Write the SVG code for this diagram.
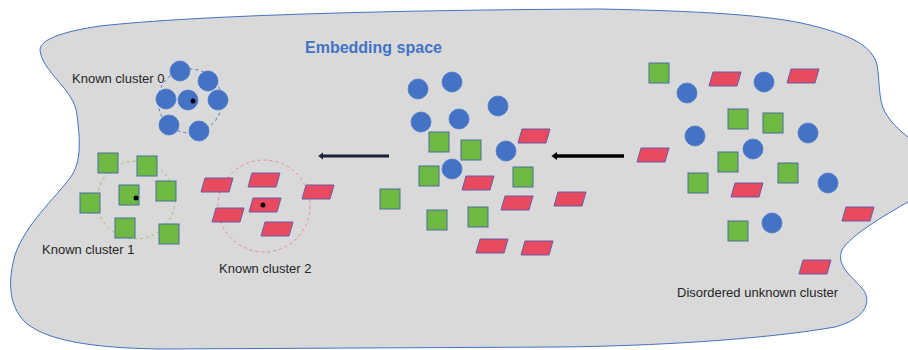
<svg xmlns="http://www.w3.org/2000/svg" width="908" height="350" viewBox="0 0 908 350">
<style>
.bg{fill:#d9d9d9;stroke:#4472c4;stroke-width:1}
.c{fill:#4472c4;stroke:#4a78c8;stroke-width:0.8}
.s{fill:#6fb943;stroke:#46709c;stroke-width:1}
.p{fill:#e84a5f;stroke:#6a5aa6;stroke-width:1}
.dot{fill:#000}
.lbl{font-family:"Liberation Sans",Arial,sans-serif;font-size:13px;fill:#262626}
.title{font-family:"Liberation Sans",Arial,sans-serif;font-size:16px;font-weight:bold;fill:#4472c4}
.ring{fill:none;stroke-width:1;stroke-dasharray:3,3}
</style>
<defs>
<rect id="sq" class="s" width="20" height="20"/>
<polygon id="pg" class="p" points="4,0 32,0 28,14 0,14"/>
<marker id="ahN" markerWidth="3" markerHeight="3" refX="0" refY="1.15" orient="auto" markerUnits="strokeWidth" overflow="visible">
<path d="M0,0 L1.6,1.15 L0,2.3 Z" fill="#1a2238"/>
</marker>
<marker id="ahB" markerWidth="3" markerHeight="3" refX="0" refY="1.15" orient="auto" markerUnits="strokeWidth" overflow="visible">
<path d="M0,0 L1.6,1.15 L0,2.3 Z" fill="#000"/>
</marker>
</defs>
<path class="bg" d="M 40,50 C 40,40 60,32 100,26 C 200,15 400,10 600,9 C 700,11 770,15 810,25 C 850,35 872,45 877,65 C 880,80 878,100 885,112 C 892,125 905,135 915,142 L 915,198 C 890,212 850,235 842,250 C 836,265 850,275 862,288 C 872,300 868,318 835,327 C 760,340 650,346 560,347 L 160,349 C 90,348 45,340 25,322 C 8,305 8,280 15,255 C 25,225 55,198 70,178 C 82,162 80,140 77,115 C 75,90 42,72 40,50 Z"/>
<text class="title" x="305" y="53">Embedding space</text>
<g id="known-cluster-0">
<circle class="ring" cx="190" cy="101" r="32" stroke="#4472c4"/>
<circle class="c" cx="180" cy="71" r="10"/>
<circle class="c" cx="208" cy="81" r="10"/>
<circle class="c" cx="166" cy="99" r="10"/>
<circle class="c" cx="188" cy="100" r="10"/>
<circle class="c" cx="218" cy="100" r="10"/>
<circle class="c" cx="169" cy="125" r="10"/>
<circle class="c" cx="199" cy="131" r="10"/>
<circle class="dot" cx="193" cy="101" r="2.5"/>
<text class="lbl" x="72" y="83">Known cluster 0</text>
</g>
<g id="known-cluster-1">
<circle class="ring" cx="136" cy="200" r="39" stroke="#9ac36a"/>
<use href="#sq" x="98" y="153"/>
<use href="#sq" x="137" y="156"/>
<use href="#sq" x="119" y="185"/>
<use href="#sq" x="156" y="181"/>
<use href="#sq" x="80" y="193"/>
<use href="#sq" x="115" y="218"/>
<use href="#sq" x="159" y="224"/>
<circle class="dot" cx="136" cy="198" r="2.5"/>
<text class="lbl" x="42" y="254">Known cluster 1</text>
</g>
<g id="known-cluster-2">
<circle class="ring" cx="264" cy="206" r="46" stroke="#e88a94"/>
<use href="#pg" x="201" y="178"/>
<use href="#pg" x="248" y="173"/>
<use href="#pg" x="302" y="185"/>
<use href="#pg" x="249" y="198"/>
<use href="#pg" x="212" y="208"/>
<use href="#pg" x="261" y="222"/>
<circle class="dot" cx="263" cy="205" r="2.5"/>
<text class="lbl" x="219" y="273">Known cluster 2</text>
</g>
<g id="mixed-cluster">
<circle class="c" cx="418" cy="89" r="10"/>
<circle class="c" cx="452" cy="82" r="10"/>
<circle class="c" cx="498" cy="106" r="10"/>
<circle class="c" cx="421" cy="122" r="10"/>
<circle class="c" cx="459" cy="119" r="10"/>
<circle class="c" cx="506" cy="151" r="10"/>
<circle class="c" cx="452" cy="169" r="10"/>
<use href="#sq" x="429" y="132"/>
<use href="#sq" x="461" y="140"/>
<use href="#sq" x="419" y="166"/>
<use href="#sq" x="513" y="167"/>
<use href="#sq" x="380" y="189"/>
<use href="#sq" x="427" y="210"/>
<use href="#sq" x="468" y="207"/>
<use href="#pg" x="518" y="129"/>
<use href="#pg" x="462" y="176"/>
<use href="#pg" x="501" y="196"/>
<use href="#pg" x="554" y="192"/>
<use href="#pg" x="476" y="239"/>
<use href="#pg" x="521" y="241"/>
</g>
<g id="disordered-unknown-cluster">
<use href="#sq" x="649" y="63"/>
<use href="#sq" x="728" y="109"/>
<use href="#sq" x="763" y="113"/>
<use href="#sq" x="718" y="152"/>
<use href="#sq" x="688" y="173"/>
<use href="#sq" x="778" y="163"/>
<use href="#sq" x="728" y="221"/>
<circle class="c" cx="687" cy="93" r="10"/>
<circle class="c" cx="764" cy="82" r="10"/>
<circle class="c" cx="695" cy="136" r="10"/>
<circle class="c" cx="808" cy="133" r="10"/>
<circle class="c" cx="753" cy="149" r="10"/>
<circle class="c" cx="828" cy="183" r="10"/>
<circle class="c" cx="772" cy="223" r="10"/>
<use href="#pg" x="709" y="72"/>
<use href="#pg" x="787" y="69"/>
<use href="#pg" x="637" y="148"/>
<use href="#pg" x="731" y="183"/>
<use href="#pg" x="842" y="207"/>
<use href="#pg" x="799" y="260"/>
<text class="lbl" x="677" y="297">Disordered unknown cluster</text>
</g>
<g id="connectors">
<line x1="389" y1="156" x2="323" y2="156" stroke="#1a2238" stroke-width="3" marker-end="url(#ahN)"/>
<line x1="624" y1="156" x2="557" y2="156" stroke="#000" stroke-width="3.5" marker-end="url(#ahB)"/>
</g>
</svg>
